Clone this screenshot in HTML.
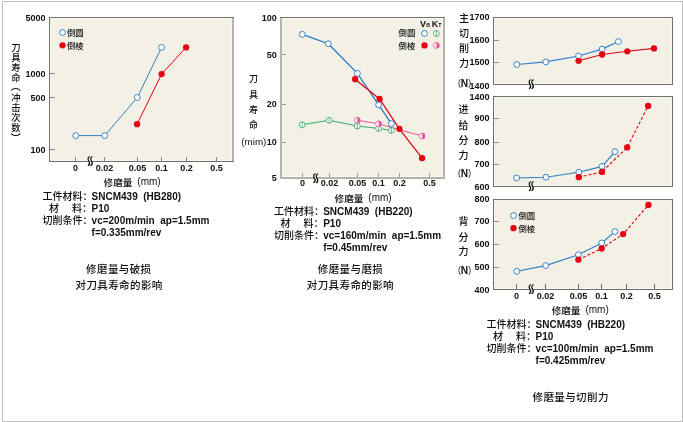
<!DOCTYPE html><html><head><meta charset="utf-8"><style>html,body{margin:0;padding:0;background:#fff;}svg{display:block;will-change:transform;}</style></head><body>
<svg width="683" height="422" viewBox="0 0 683 422">
<rect x="0" y="0" width="683" height="422" fill="#fff"/>
<rect x="2.5" y="1.5" width="680" height="420" fill="none" stroke="#bdbdbd" stroke-width="1"/>
<g fill="#111">
<rect x="49.5" y="17.5" width="183.0" height="144.0" fill="#f3f0e6"/>
<rect x="50.5" y="18.5" width="181.0" height="142.0" fill="none" stroke="#f9f7ee" stroke-width="1"/>
<rect x="232.0" y="17.0" width="2" height="145.0" fill="#b3b2ad"/>
<rect x="49.0" y="17.0" width="185.0" height="1" fill="#707070"/>
<rect x="49.0" y="161.0" width="185.0" height="1" fill="#707070"/>
<rect x="49.0" y="17.0" width="1" height="145.0" fill="#707070"/>
<line x1="50.0" y1="73.5" x2="55.0" y2="73.5" stroke="#858580" stroke-width="1"/>
<line x1="50.0" y1="97.5" x2="55.0" y2="97.5" stroke="#858580" stroke-width="1"/>
<line x1="50.0" y1="149.5" x2="55.0" y2="149.5" stroke="#858580" stroke-width="1"/>
<line x1="75.5" y1="161.0" x2="75.5" y2="157.0" stroke="#858580" stroke-width="1"/>
<line x1="104.5" y1="161.0" x2="104.5" y2="157.0" stroke="#858580" stroke-width="1"/>
<line x1="137.5" y1="161.0" x2="137.5" y2="157.0" stroke="#858580" stroke-width="1"/>
<line x1="161.5" y1="161.0" x2="161.5" y2="157.0" stroke="#858580" stroke-width="1"/>
<line x1="186.5" y1="161.0" x2="186.5" y2="157.0" stroke="#858580" stroke-width="1"/>
<line x1="216.5" y1="161.0" x2="216.5" y2="157.0" stroke="#858580" stroke-width="1"/>
<text x="45.5" y="20.6" font-size="9" font-weight="bold" text-anchor="end" font-family="'Liberation Sans', 'Noto Sans CJK SC', sans-serif" >5000</text>
<text x="45.5" y="77.1" font-size="9" font-weight="bold" text-anchor="end" font-family="'Liberation Sans', 'Noto Sans CJK SC', sans-serif" >1000</text>
<text x="45.5" y="101.1" font-size="9" font-weight="bold" text-anchor="end" font-family="'Liberation Sans', 'Noto Sans CJK SC', sans-serif" >500</text>
<text x="45.5" y="152.5" font-size="9" font-weight="bold" text-anchor="end" font-family="'Liberation Sans', 'Noto Sans CJK SC', sans-serif" >100</text>
<text x="75.5" y="170.9" font-size="9" font-weight="bold" text-anchor="middle" font-family="'Liberation Sans', 'Noto Sans CJK SC', sans-serif" >0</text>
<text x="104.5" y="170.9" font-size="9" font-weight="bold" text-anchor="middle" font-family="'Liberation Sans', 'Noto Sans CJK SC', sans-serif" >0.02</text>
<text x="137.5" y="170.9" font-size="9" font-weight="bold" text-anchor="middle" font-family="'Liberation Sans', 'Noto Sans CJK SC', sans-serif" >0.05</text>
<text x="161.5" y="170.9" font-size="9" font-weight="bold" text-anchor="middle" font-family="'Liberation Sans', 'Noto Sans CJK SC', sans-serif" >0.1</text>
<text x="186.5" y="170.9" font-size="9" font-weight="bold" text-anchor="middle" font-family="'Liberation Sans', 'Noto Sans CJK SC', sans-serif" >0.2</text>
<text x="216.5" y="170.9" font-size="9" font-weight="bold" text-anchor="middle" font-family="'Liberation Sans', 'Noto Sans CJK SC', sans-serif" >0.5</text>
<g transform="translate(90.4,161.0)"><path d="M-0.9,-4.3 C-2.6,-3.5 -2.7,-1.6 -1.6,0 C-0.6,1.5 -0.5,3.2 -2.1,4.4 L0.5,4.5 C2.1,3.3 2.0,1.6 1.0,0.1 C-0.1,-1.5 0,-3.4 1.7,-4.2 Z" fill="#fff"/><path d="M-0.9,-4.3 C-2.6,-3.5 -2.7,-1.6 -1.6,0 C-0.6,1.5 -0.5,3.2 -2.1,4.4" fill="none" stroke="#111" stroke-width="1.25" stroke-linecap="round"/><path d="M1.7,-4.2 C0,-3.4 -0.1,-1.5 1.0,0.1 C2.0,1.6 2.1,3.3 0.5,4.5" fill="none" stroke="#111" stroke-width="1.25" stroke-linecap="round"/></g>
<polyline points="75.7,135.6 104.7,135.6 137.3,97.5 161.6,47.4" fill="none" stroke="#2f80c8" stroke-width="1.0"/>
<polyline points="137.1,124.2 161.6,74.1 186.1,47.4" fill="none" stroke="#e60012" stroke-width="1.0"/>
<circle cx="75.7" cy="135.6" r="2.95" fill="#fff" stroke="#2677c6" stroke-width="0.9"/>
<circle cx="104.7" cy="135.6" r="2.95" fill="#fff" stroke="#2677c6" stroke-width="0.9"/>
<circle cx="137.3" cy="97.5" r="2.95" fill="#fff" stroke="#2677c6" stroke-width="0.9"/>
<circle cx="161.6" cy="47.4" r="2.95" fill="#fff" stroke="#2677c6" stroke-width="0.9"/>
<circle cx="137.1" cy="124.2" r="3.15" fill="#e60012"/>
<circle cx="161.6" cy="74.1" r="3.15" fill="#e60012"/>
<circle cx="186.1" cy="47.4" r="3.15" fill="#e60012"/>
<circle cx="62.5" cy="32.5" r="2.95" fill="#fff" stroke="#2677c6" stroke-width="0.9"/>
<circle cx="62.5" cy="45.3" r="3.15" fill="#e60012"/>
<text x="67.0" y="36.3" font-size="8.4" font-weight="500" text-anchor="start" font-family="'Liberation Sans', 'Noto Sans CJK SC', sans-serif" >倒圆</text>
<text x="67.0" y="48.8" font-size="8.4" font-weight="500" text-anchor="start" font-family="'Liberation Sans', 'Noto Sans CJK SC', sans-serif" >倒棱</text>
<text x="16.0" y="50.95" font-size="9.3" font-weight="500" text-anchor="middle" font-family="'Liberation Sans', 'Noto Sans CJK SC', sans-serif" >刀</text>
<text x="16.0" y="61.05" font-size="9.3" font-weight="500" text-anchor="middle" font-family="'Liberation Sans', 'Noto Sans CJK SC', sans-serif" >具</text>
<text x="16.0" y="70.85" font-size="9.3" font-weight="500" text-anchor="middle" font-family="'Liberation Sans', 'Noto Sans CJK SC', sans-serif" >寿</text>
<text x="16.0" y="81.15" font-size="9.3" font-weight="500" text-anchor="middle" font-family="'Liberation Sans', 'Noto Sans CJK SC', sans-serif" >命</text>
<text x="16.0" y="100.75" font-size="9.3" font-weight="500" text-anchor="middle" font-family="'Liberation Sans', 'Noto Sans CJK SC', sans-serif" >冲</text>
<text x="16.0" y="110.85" font-size="9.3" font-weight="500" text-anchor="middle" font-family="'Liberation Sans', 'Noto Sans CJK SC', sans-serif" >击</text>
<text x="16.0" y="120.95" font-size="9.3" font-weight="500" text-anchor="middle" font-family="'Liberation Sans', 'Noto Sans CJK SC', sans-serif" >次</text>
<text x="16.0" y="131.05" font-size="9.3" font-weight="500" text-anchor="middle" font-family="'Liberation Sans', 'Noto Sans CJK SC', sans-serif" >数</text>
<text x="15.8" y="90.0" font-size="10" font-weight="500" text-anchor="middle" font-family="'Liberation Sans', 'Noto Sans CJK SC', sans-serif" >︵</text>
<text x="15.8" y="141.8" font-size="10" font-weight="500" text-anchor="middle" font-family="'Liberation Sans', 'Noto Sans CJK SC', sans-serif" >︶</text>
<text x="103.60000000000001" y="185.7" font-size="9.6" font-weight="500" text-anchor="start" font-family="'Liberation Sans', 'Noto Sans CJK SC', sans-serif" >修磨量</text>
<text x="137.3" y="185.4" font-size="10" font-weight="normal" text-anchor="start" font-family="'Liberation Sans', 'Noto Sans CJK SC', sans-serif" >(mm)</text>
<text x="42.4" y="200.0" font-size="10" font-weight="500" text-anchor="start" font-family="'Liberation Sans', 'Noto Sans CJK SC', sans-serif" >工件材料：</text>
<text x="48.9" y="212.0" font-size="10" font-weight="500" text-anchor="start" font-family="'Liberation Sans', 'Noto Sans CJK SC', sans-serif" >材</text>
<text x="71.9" y="212.0" font-size="10" font-weight="500" text-anchor="start" font-family="'Liberation Sans', 'Noto Sans CJK SC', sans-serif" >料：</text>
<text x="42.4" y="223.79999999999998" font-size="10" font-weight="500" text-anchor="start" font-family="'Liberation Sans', 'Noto Sans CJK SC', sans-serif" >切削条件：</text>
<text x="91.6" y="200.0" font-size="10" font-weight="bold" text-anchor="start" font-family="'Liberation Sans', 'Noto Sans CJK SC', sans-serif" >SNCM439<tspan dx="5.5">(HB280)</tspan></text>
<text x="91.6" y="212.0" font-size="10" font-weight="bold" text-anchor="start" font-family="'Liberation Sans', 'Noto Sans CJK SC', sans-serif" >P10</text>
<text x="91.6" y="223.79999999999998" font-size="10" font-weight="bold" text-anchor="start" font-family="'Liberation Sans', 'Noto Sans CJK SC', sans-serif" xml:space="preserve">vc=200m/min  ap=1.5mm</text>
<text x="91.6" y="236.0" font-size="10" font-weight="bold" text-anchor="start" font-family="'Liberation Sans', 'Noto Sans CJK SC', sans-serif" >f=0.335mm/rev</text>
<text x="86.1" y="273.3" font-size="10.5" font-weight="500" text-anchor="start" font-family="'Liberation Sans', 'Noto Sans CJK SC', sans-serif" letter-spacing="0.4">修磨量与破损</text>
<text x="75.5" y="289.0" font-size="10.5" font-weight="500" text-anchor="start" font-family="'Liberation Sans', 'Noto Sans CJK SC', sans-serif" letter-spacing="0.4">对刀具寿命的影响</text>
<rect x="281.5" y="17.5" width="162.0" height="160.0" fill="#f3f0e6"/>
<rect x="282.5" y="18.5" width="160.0" height="158.0" fill="none" stroke="#f9f7ee" stroke-width="1"/>
<rect x="280.0" y="17.0" width="2" height="162.0" fill="#b3b2ad"/>
<rect x="443.0" y="17.0" width="2" height="162.0" fill="#b3b2ad"/>
<rect x="280.0" y="177.0" width="165.0" height="2" fill="#b3b2ad"/>
<rect x="280.0" y="17.0" width="165.0" height="1" fill="#707070"/>
<line x1="282.0" y1="54.5" x2="286.0" y2="54.5" stroke="#a09f9a" stroke-width="1"/>
<line x1="282.0" y1="104.5" x2="286.0" y2="104.5" stroke="#a09f9a" stroke-width="1"/>
<line x1="282.0" y1="142.5" x2="286.0" y2="142.5" stroke="#a09f9a" stroke-width="1"/>
<line x1="302.5" y1="177.0" x2="302.5" y2="173.0" stroke="#a09f9a" stroke-width="1"/>
<line x1="329.5" y1="177.0" x2="329.5" y2="173.0" stroke="#a09f9a" stroke-width="1"/>
<line x1="357.5" y1="177.0" x2="357.5" y2="173.0" stroke="#a09f9a" stroke-width="1"/>
<line x1="378.5" y1="177.0" x2="378.5" y2="173.0" stroke="#a09f9a" stroke-width="1"/>
<line x1="399.5" y1="177.0" x2="399.5" y2="173.0" stroke="#a09f9a" stroke-width="1"/>
<line x1="429.5" y1="177.0" x2="429.5" y2="173.0" stroke="#a09f9a" stroke-width="1"/>
<text x="276.8" y="20.6" font-size="9" font-weight="bold" text-anchor="end" font-family="'Liberation Sans', 'Noto Sans CJK SC', sans-serif" >100</text>
<text x="276.8" y="57.6" font-size="9" font-weight="bold" text-anchor="end" font-family="'Liberation Sans', 'Noto Sans CJK SC', sans-serif" >50</text>
<text x="276.8" y="107.3" font-size="9" font-weight="bold" text-anchor="end" font-family="'Liberation Sans', 'Noto Sans CJK SC', sans-serif" >20</text>
<text x="276.8" y="145.0" font-size="9" font-weight="bold" text-anchor="end" font-family="'Liberation Sans', 'Noto Sans CJK SC', sans-serif" >10</text>
<text x="276.8" y="180.8" font-size="9" font-weight="bold" text-anchor="end" font-family="'Liberation Sans', 'Noto Sans CJK SC', sans-serif" >5</text>
<text x="302.5" y="186.4" font-size="9" font-weight="bold" text-anchor="middle" font-family="'Liberation Sans', 'Noto Sans CJK SC', sans-serif" >0</text>
<text x="329.5" y="186.4" font-size="9" font-weight="bold" text-anchor="middle" font-family="'Liberation Sans', 'Noto Sans CJK SC', sans-serif" >0.02</text>
<text x="357.5" y="186.4" font-size="9" font-weight="bold" text-anchor="middle" font-family="'Liberation Sans', 'Noto Sans CJK SC', sans-serif" >0.05</text>
<text x="378.5" y="186.4" font-size="9" font-weight="bold" text-anchor="middle" font-family="'Liberation Sans', 'Noto Sans CJK SC', sans-serif" >0.1</text>
<text x="399.5" y="186.4" font-size="9" font-weight="bold" text-anchor="middle" font-family="'Liberation Sans', 'Noto Sans CJK SC', sans-serif" >0.2</text>
<text x="429.5" y="186.4" font-size="9" font-weight="bold" text-anchor="middle" font-family="'Liberation Sans', 'Noto Sans CJK SC', sans-serif" >0.5</text>
<g transform="translate(316,178.2)"><path d="M-0.9,-4.3 C-2.6,-3.5 -2.7,-1.6 -1.6,0 C-0.6,1.5 -0.5,3.2 -2.1,4.4 L0.5,4.5 C2.1,3.3 2.0,1.6 1.0,0.1 C-0.1,-1.5 0,-3.4 1.7,-4.2 Z" fill="#fff"/><path d="M-0.9,-4.3 C-2.6,-3.5 -2.7,-1.6 -1.6,0 C-0.6,1.5 -0.5,3.2 -2.1,4.4" fill="none" stroke="#111" stroke-width="1.25" stroke-linecap="round"/><path d="M1.7,-4.2 C0,-3.4 -0.1,-1.5 1.0,0.1 C2.0,1.6 2.1,3.3 0.5,4.5" fill="none" stroke="#111" stroke-width="1.25" stroke-linecap="round"/></g>
<text x="253.5" y="82.3" font-size="9" font-weight="500" text-anchor="middle" font-family="'Liberation Sans', 'Noto Sans CJK SC', sans-serif" >刀</text>
<text x="253.5" y="97.8" font-size="9" font-weight="500" text-anchor="middle" font-family="'Liberation Sans', 'Noto Sans CJK SC', sans-serif" >具</text>
<text x="253.5" y="113.0" font-size="9" font-weight="500" text-anchor="middle" font-family="'Liberation Sans', 'Noto Sans CJK SC', sans-serif" >寿</text>
<text x="253.5" y="128.2" font-size="9" font-weight="500" text-anchor="middle" font-family="'Liberation Sans', 'Noto Sans CJK SC', sans-serif" >命</text>
<text x="266.4" y="145.3" font-size="9.8" font-weight="normal" text-anchor="end" font-family="'Liberation Sans', 'Noto Sans CJK SC', sans-serif" >(mim)</text>
<polyline points="302.1,124.8 329.2,120.3 357.3,126.0 378.6,128.4 391.4,130.4" fill="none" stroke="#3aaa6a" stroke-width="1.05"/>
<polyline points="357.3,120.3 378.6,123.8 422.1,136.0" fill="none" stroke="#e8559b" stroke-width="1.0"/>
<polyline points="302.3,34.4 328.3,43.7 357.4,73.4 378.6,104.8 391.4,123.6" fill="none" stroke="#2677c6" stroke-width="1.25"/>
<polyline points="355.1,79.2 379.6,98.9 399.4,128.8 422.1,158.2" fill="none" stroke="#e60012" stroke-width="1.25"/>
<circle cx="302.1" cy="124.8" r="2.95" fill="#fff" stroke="#3aaa6a" stroke-width="0.85"/><line x1="302.1" y1="121.85" x2="302.1" y2="127.75" stroke="#3aaa6a" stroke-width="0.8"/>
<circle cx="329.2" cy="120.3" r="2.95" fill="#fff" stroke="#3aaa6a" stroke-width="0.85"/><line x1="329.2" y1="117.35" x2="329.2" y2="123.25" stroke="#3aaa6a" stroke-width="0.8"/>
<circle cx="357.3" cy="126.0" r="2.95" fill="#fff" stroke="#3aaa6a" stroke-width="0.85"/><line x1="357.3" y1="123.05" x2="357.3" y2="128.95" stroke="#3aaa6a" stroke-width="0.8"/>
<circle cx="378.6" cy="128.4" r="2.95" fill="#fff" stroke="#3aaa6a" stroke-width="0.85"/><line x1="378.6" y1="125.45" x2="378.6" y2="131.35" stroke="#3aaa6a" stroke-width="0.8"/>
<circle cx="391.4" cy="130.4" r="2.95" fill="#fff" stroke="#3aaa6a" stroke-width="0.85"/><line x1="391.4" y1="127.45" x2="391.4" y2="133.35" stroke="#3aaa6a" stroke-width="0.8"/>
<circle cx="357.3" cy="120.3" r="2.95" fill="#fff" stroke="#e8559b" stroke-width="0.8"/><path d="M357.3,117.35 A2.95,2.95 0 0 1 357.3,123.25 Z" fill="#e8559b"/>
<circle cx="378.6" cy="123.8" r="2.95" fill="#fff" stroke="#e8559b" stroke-width="0.8"/><path d="M378.6,120.85 A2.95,2.95 0 0 1 378.6,126.75 Z" fill="#e8559b"/>
<circle cx="422.1" cy="136.0" r="2.95" fill="#fff" stroke="#e8559b" stroke-width="0.8"/><path d="M422.1,133.05 A2.95,2.95 0 0 1 422.1,138.95 Z" fill="#e8559b"/>
<circle cx="302.3" cy="34.4" r="2.95" fill="#fff" stroke="#2677c6" stroke-width="0.9"/>
<circle cx="328.3" cy="43.7" r="2.95" fill="#fff" stroke="#2677c6" stroke-width="0.9"/>
<circle cx="357.4" cy="73.4" r="2.95" fill="#fff" stroke="#2677c6" stroke-width="0.9"/>
<circle cx="378.6" cy="104.8" r="2.95" fill="#fff" stroke="#2677c6" stroke-width="0.9"/>
<circle cx="391.4" cy="123.6" r="2.95" fill="#fff" stroke="#2677c6" stroke-width="0.9"/>
<circle cx="355.1" cy="79.2" r="3.15" fill="#e60012"/>
<circle cx="379.6" cy="98.9" r="3.15" fill="#e60012"/>
<circle cx="399.4" cy="128.8" r="3.15" fill="#e60012"/>
<circle cx="422.1" cy="158.2" r="3.15" fill="#e60012"/>
<text x="420.0" y="27" font-size="9" font-weight="bold" text-anchor="start" font-family="'Liberation Sans', 'Noto Sans CJK SC', sans-serif" >V<tspan font-size="5.3" dx="0.2">B</tspan></text>
<text x="431.7" y="27" font-size="9" font-weight="bold" text-anchor="start" font-family="'Liberation Sans', 'Noto Sans CJK SC', sans-serif" >K<tspan font-size="5.3">T</tspan></text>
<text x="398.6" y="36.2" font-size="8.4" font-weight="500" text-anchor="start" font-family="'Liberation Sans', 'Noto Sans CJK SC', sans-serif" >倒圆</text>
<text x="398.6" y="48.9" font-size="8.4" font-weight="500" text-anchor="start" font-family="'Liberation Sans', 'Noto Sans CJK SC', sans-serif" >倒棱</text>
<circle cx="424.5" cy="33.5" r="2.95" fill="#fff" stroke="#2677c6" stroke-width="0.9"/>
<circle cx="436.4" cy="33.5" r="2.95" fill="#fff" stroke="#3aaa6a" stroke-width="0.85"/><line x1="436.4" y1="30.55" x2="436.4" y2="36.45" stroke="#3aaa6a" stroke-width="0.8"/>
<circle cx="424.5" cy="45.4" r="3.15" fill="#e60012"/>
<circle cx="436.4" cy="45.4" r="2.95" fill="#fff" stroke="#e8559b" stroke-width="0.8"/><path d="M436.4,42.449999999999996 A2.95,2.95 0 0 1 436.4,48.35 Z" fill="#e8559b"/>
<text x="334.59999999999997" y="201.7" font-size="9.6" font-weight="500" text-anchor="start" font-family="'Liberation Sans', 'Noto Sans CJK SC', sans-serif" >修磨量</text>
<text x="368.3" y="201.4" font-size="10" font-weight="normal" text-anchor="start" font-family="'Liberation Sans', 'Noto Sans CJK SC', sans-serif" >(mm)</text>
<text x="273.9" y="215.0" font-size="10" font-weight="500" text-anchor="start" font-family="'Liberation Sans', 'Noto Sans CJK SC', sans-serif" >工件材料：</text>
<text x="280.4" y="226.7" font-size="10" font-weight="500" text-anchor="start" font-family="'Liberation Sans', 'Noto Sans CJK SC', sans-serif" >材</text>
<text x="303.4" y="226.7" font-size="10" font-weight="500" text-anchor="start" font-family="'Liberation Sans', 'Noto Sans CJK SC', sans-serif" >料：</text>
<text x="273.9" y="239.0" font-size="10" font-weight="500" text-anchor="start" font-family="'Liberation Sans', 'Noto Sans CJK SC', sans-serif" >切削条件：</text>
<text x="323.2" y="215.0" font-size="10" font-weight="bold" text-anchor="start" font-family="'Liberation Sans', 'Noto Sans CJK SC', sans-serif" >SNCM439<tspan dx="5.5">(HB220)</tspan></text>
<text x="323.2" y="226.7" font-size="10" font-weight="bold" text-anchor="start" font-family="'Liberation Sans', 'Noto Sans CJK SC', sans-serif" >P10</text>
<text x="323.2" y="239.0" font-size="10" font-weight="bold" text-anchor="start" font-family="'Liberation Sans', 'Noto Sans CJK SC', sans-serif" xml:space="preserve">vc=160m/min  ap=1.5mm</text>
<text x="323.2" y="251.0" font-size="10" font-weight="bold" text-anchor="start" font-family="'Liberation Sans', 'Noto Sans CJK SC', sans-serif" >f=0.45mm/rev</text>
<text x="317.8" y="273.4" font-size="10.5" font-weight="500" text-anchor="start" font-family="'Liberation Sans', 'Noto Sans CJK SC', sans-serif" letter-spacing="0.4">修磨量与磨损</text>
<text x="306.8" y="289.2" font-size="10.5" font-weight="500" text-anchor="start" font-family="'Liberation Sans', 'Noto Sans CJK SC', sans-serif" letter-spacing="0.4">对刀具寿命的影响</text>
<rect x="493.5" y="17.5" width="179.0" height="67.0" fill="#f3f0e6"/>
<rect x="494.5" y="18.5" width="177.0" height="65.0" fill="none" stroke="#f9f7ee" stroke-width="1"/>
<rect x="493.0" y="17.0" width="180.0" height="1" fill="#707070"/>
<rect x="493.0" y="84.0" width="180.0" height="1" fill="#707070"/>
<rect x="493.0" y="17.0" width="1" height="68.0" fill="#707070"/>
<rect x="672.0" y="17.0" width="1" height="68.0" fill="#707070"/>
<line x1="494.0" y1="40.5" x2="499.0" y2="40.5" stroke="#8f8e89" stroke-width="1"/>
<line x1="494.0" y1="62.5" x2="499.0" y2="62.5" stroke="#8f8e89" stroke-width="1"/>
<text x="489.5" y="20.4" font-size="9" font-weight="bold" text-anchor="end" font-family="'Liberation Sans', 'Noto Sans CJK SC', sans-serif" >1700</text>
<text x="489.5" y="43.1" font-size="9" font-weight="bold" text-anchor="end" font-family="'Liberation Sans', 'Noto Sans CJK SC', sans-serif" >1600</text>
<text x="489.5" y="65.1" font-size="9" font-weight="bold" text-anchor="end" font-family="'Liberation Sans', 'Noto Sans CJK SC', sans-serif" >1500</text>
<text x="489.5" y="88.6" font-size="9" font-weight="bold" text-anchor="end" font-family="'Liberation Sans', 'Noto Sans CJK SC', sans-serif" >1400</text>
<text x="463.9" y="21.8" font-size="10" font-weight="500" text-anchor="middle" font-family="'Liberation Sans', 'Noto Sans CJK SC', sans-serif" >主</text>
<text x="463.9" y="37.4" font-size="10" font-weight="500" text-anchor="middle" font-family="'Liberation Sans', 'Noto Sans CJK SC', sans-serif" >切</text>
<text x="463.9" y="52.300000000000004" font-size="10" font-weight="500" text-anchor="middle" font-family="'Liberation Sans', 'Noto Sans CJK SC', sans-serif" >削</text>
<text x="463.9" y="66.6" font-size="10" font-weight="500" text-anchor="middle" font-family="'Liberation Sans', 'Noto Sans CJK SC', sans-serif" >力</text>
<text x="471" y="86.3" font-size="8.6" font-weight="normal" text-anchor="end" font-family="'Liberation Sans', 'Noto Sans CJK SC', sans-serif" >(<tspan font-weight="bold" font-size="10.2" dy="1.1">N</tspan><tspan dy="-1.1">)</tspan></text>
<g transform="translate(531.5,84.1)"><path d="M-0.9,-4.3 C-2.6,-3.5 -2.7,-1.6 -1.6,0 C-0.6,1.5 -0.5,3.2 -2.1,4.4 L0.5,4.5 C2.1,3.3 2.0,1.6 1.0,0.1 C-0.1,-1.5 0,-3.4 1.7,-4.2 Z" fill="#fff"/><path d="M-0.9,-4.3 C-2.6,-3.5 -2.7,-1.6 -1.6,0 C-0.6,1.5 -0.5,3.2 -2.1,4.4" fill="none" stroke="#111" stroke-width="1.25" stroke-linecap="round"/><path d="M1.7,-4.2 C0,-3.4 -0.1,-1.5 1.0,0.1 C2.0,1.6 2.1,3.3 0.5,4.5" fill="none" stroke="#111" stroke-width="1.25" stroke-linecap="round"/></g>
<polyline points="516.8,64.5 545.8,61.9 578.6,56.0 602.1,49.1 618.4,41.6" fill="none" stroke="#2f80c8" stroke-width="1.15"/>
<polyline points="578.6,60.8 602.1,54.5 627.3,51.3 654.0,48.4" fill="none" stroke="#e60012" stroke-width="1.1"/>
<circle cx="516.8" cy="64.5" r="2.95" fill="#fff" stroke="#2677c6" stroke-width="0.9"/>
<circle cx="545.8" cy="61.9" r="2.95" fill="#fff" stroke="#2677c6" stroke-width="0.9"/>
<circle cx="578.6" cy="56.0" r="2.95" fill="#fff" stroke="#2677c6" stroke-width="0.9"/>
<circle cx="602.1" cy="49.1" r="2.95" fill="#fff" stroke="#2677c6" stroke-width="0.9"/>
<circle cx="618.4" cy="41.6" r="2.95" fill="#fff" stroke="#2677c6" stroke-width="0.9"/>
<circle cx="578.6" cy="60.8" r="3.15" fill="#e60012"/>
<circle cx="602.1" cy="54.5" r="3.15" fill="#e60012"/>
<circle cx="627.3" cy="51.3" r="3.15" fill="#e60012"/>
<circle cx="654.0" cy="48.4" r="3.15" fill="#e60012"/>
<rect x="493.5" y="96.5" width="179.0" height="90.0" fill="#f3f0e6"/>
<rect x="494.5" y="97.5" width="177.0" height="88.0" fill="none" stroke="#f9f7ee" stroke-width="1"/>
<rect x="493.0" y="96.0" width="180.0" height="1" fill="#707070"/>
<rect x="493.0" y="186.0" width="180.0" height="1" fill="#707070"/>
<rect x="493.0" y="96.0" width="1" height="91.0" fill="#707070"/>
<rect x="672.0" y="96.0" width="1" height="91.0" fill="#707070"/>
<line x1="494.0" y1="118.5" x2="499.0" y2="118.5" stroke="#8f8e89" stroke-width="1"/>
<line x1="494.0" y1="142.5" x2="499.0" y2="142.5" stroke="#8f8e89" stroke-width="1"/>
<line x1="494.0" y1="164.5" x2="499.0" y2="164.5" stroke="#8f8e89" stroke-width="1"/>
<text x="489.5" y="99.8" font-size="9" font-weight="bold" text-anchor="end" font-family="'Liberation Sans', 'Noto Sans CJK SC', sans-serif" >1400</text>
<text x="489.5" y="121.2" font-size="9" font-weight="bold" text-anchor="end" font-family="'Liberation Sans', 'Noto Sans CJK SC', sans-serif" >900</text>
<text x="489.5" y="145.1" font-size="9" font-weight="bold" text-anchor="end" font-family="'Liberation Sans', 'Noto Sans CJK SC', sans-serif" >800</text>
<text x="489.5" y="167.0" font-size="9" font-weight="bold" text-anchor="end" font-family="'Liberation Sans', 'Noto Sans CJK SC', sans-serif" >700</text>
<text x="489.5" y="189.8" font-size="9" font-weight="bold" text-anchor="end" font-family="'Liberation Sans', 'Noto Sans CJK SC', sans-serif" >600</text>
<text x="463.6" y="113.19999999999999" font-size="10" font-weight="500" text-anchor="middle" font-family="'Liberation Sans', 'Noto Sans CJK SC', sans-serif" >进</text>
<text x="463.6" y="128.9" font-size="10" font-weight="500" text-anchor="middle" font-family="'Liberation Sans', 'Noto Sans CJK SC', sans-serif" >给</text>
<text x="463.6" y="143.9" font-size="10" font-weight="500" text-anchor="middle" font-family="'Liberation Sans', 'Noto Sans CJK SC', sans-serif" >分</text>
<text x="463.6" y="158.6" font-size="10" font-weight="500" text-anchor="middle" font-family="'Liberation Sans', 'Noto Sans CJK SC', sans-serif" >力</text>
<text x="471" y="176.3" font-size="8.6" font-weight="normal" text-anchor="end" font-family="'Liberation Sans', 'Noto Sans CJK SC', sans-serif" >(<tspan font-weight="bold" font-size="10.2" dy="1.1">N</tspan><tspan dy="-1.1">)</tspan></text>
<g transform="translate(531.5,186.1)"><path d="M-0.9,-4.3 C-2.6,-3.5 -2.7,-1.6 -1.6,0 C-0.6,1.5 -0.5,3.2 -2.1,4.4 L0.5,4.5 C2.1,3.3 2.0,1.6 1.0,0.1 C-0.1,-1.5 0,-3.4 1.7,-4.2 Z" fill="#fff"/><path d="M-0.9,-4.3 C-2.6,-3.5 -2.7,-1.6 -1.6,0 C-0.6,1.5 -0.5,3.2 -2.1,4.4" fill="none" stroke="#111" stroke-width="1.25" stroke-linecap="round"/><path d="M1.7,-4.2 C0,-3.4 -0.1,-1.5 1.0,0.1 C2.0,1.6 2.1,3.3 0.5,4.5" fill="none" stroke="#111" stroke-width="1.25" stroke-linecap="round"/></g>
<polyline points="516.6,178.0 546.0,177.2 578.8,172.2 602.0,166.4 615.0,151.7" fill="none" stroke="#2f80c8" stroke-width="1.15"/>
<polyline points="578.8,177.2 602.0,171.9 627.2,147.4 648.1,105.9" fill="none" stroke="#e60012" stroke-width="1.1" stroke-dasharray="3,2"/>
<circle cx="516.6" cy="178.0" r="2.95" fill="#fff" stroke="#2677c6" stroke-width="0.9"/>
<circle cx="546.0" cy="177.2" r="2.95" fill="#fff" stroke="#2677c6" stroke-width="0.9"/>
<circle cx="578.8" cy="172.2" r="2.95" fill="#fff" stroke="#2677c6" stroke-width="0.9"/>
<circle cx="602.0" cy="166.4" r="2.95" fill="#fff" stroke="#2677c6" stroke-width="0.9"/>
<circle cx="615.0" cy="151.7" r="2.95" fill="#fff" stroke="#2677c6" stroke-width="0.9"/>
<circle cx="578.8" cy="177.2" r="3.15" fill="#e60012"/>
<circle cx="602.0" cy="171.9" r="3.15" fill="#e60012"/>
<circle cx="627.2" cy="147.4" r="3.15" fill="#e60012"/>
<circle cx="648.1" cy="105.9" r="3.15" fill="#e60012"/>
<rect x="493.5" y="199.5" width="179.0" height="90.0" fill="#f3f0e6"/>
<rect x="494.5" y="200.5" width="177.0" height="88.0" fill="none" stroke="#f9f7ee" stroke-width="1"/>
<rect x="493.0" y="199.0" width="180.0" height="1" fill="#707070"/>
<rect x="493.0" y="289.0" width="180.0" height="1" fill="#707070"/>
<rect x="493.0" y="199.0" width="1" height="91.0" fill="#707070"/>
<rect x="672.0" y="199.0" width="1" height="91.0" fill="#707070"/>
<line x1="494.0" y1="221.5" x2="499.0" y2="221.5" stroke="#8f8e89" stroke-width="1"/>
<line x1="494.0" y1="244.5" x2="499.0" y2="244.5" stroke="#8f8e89" stroke-width="1"/>
<line x1="494.0" y1="267.5" x2="499.0" y2="267.5" stroke="#8f8e89" stroke-width="1"/>
<line x1="516.5" y1="289.0" x2="516.5" y2="284.0" stroke="#707070" stroke-width="1"/>
<line x1="545.5" y1="289.0" x2="545.5" y2="284.0" stroke="#707070" stroke-width="1"/>
<line x1="578.5" y1="289.0" x2="578.5" y2="284.0" stroke="#707070" stroke-width="1"/>
<line x1="601.5" y1="289.0" x2="601.5" y2="284.0" stroke="#707070" stroke-width="1"/>
<line x1="626.5" y1="289.0" x2="626.5" y2="284.0" stroke="#707070" stroke-width="1"/>
<line x1="654.5" y1="289.0" x2="654.5" y2="284.0" stroke="#707070" stroke-width="1"/>
<text x="489.5" y="202.3" font-size="9" font-weight="bold" text-anchor="end" font-family="'Liberation Sans', 'Noto Sans CJK SC', sans-serif" >800</text>
<text x="489.5" y="224.3" font-size="9" font-weight="bold" text-anchor="end" font-family="'Liberation Sans', 'Noto Sans CJK SC', sans-serif" >700</text>
<text x="489.5" y="247.1" font-size="9" font-weight="bold" text-anchor="end" font-family="'Liberation Sans', 'Noto Sans CJK SC', sans-serif" >600</text>
<text x="489.5" y="269.8" font-size="9" font-weight="bold" text-anchor="end" font-family="'Liberation Sans', 'Noto Sans CJK SC', sans-serif" >500</text>
<text x="489.5" y="293.3" font-size="9" font-weight="bold" text-anchor="end" font-family="'Liberation Sans', 'Noto Sans CJK SC', sans-serif" >400</text>
<text x="516.5" y="299.0" font-size="9" font-weight="bold" text-anchor="middle" font-family="'Liberation Sans', 'Noto Sans CJK SC', sans-serif" >0</text>
<text x="545.5" y="299.0" font-size="9" font-weight="bold" text-anchor="middle" font-family="'Liberation Sans', 'Noto Sans CJK SC', sans-serif" >0.02</text>
<text x="578.5" y="299.0" font-size="9" font-weight="bold" text-anchor="middle" font-family="'Liberation Sans', 'Noto Sans CJK SC', sans-serif" >0.05</text>
<text x="601.5" y="299.0" font-size="9" font-weight="bold" text-anchor="middle" font-family="'Liberation Sans', 'Noto Sans CJK SC', sans-serif" >0.1</text>
<text x="626.5" y="299.0" font-size="9" font-weight="bold" text-anchor="middle" font-family="'Liberation Sans', 'Noto Sans CJK SC', sans-serif" >0.2</text>
<text x="654.5" y="299.0" font-size="9" font-weight="bold" text-anchor="middle" font-family="'Liberation Sans', 'Noto Sans CJK SC', sans-serif" >0.5</text>
<text x="463.6" y="225.1" font-size="10" font-weight="500" text-anchor="middle" font-family="'Liberation Sans', 'Noto Sans CJK SC', sans-serif" >背</text>
<text x="463.6" y="240.5" font-size="10" font-weight="500" text-anchor="middle" font-family="'Liberation Sans', 'Noto Sans CJK SC', sans-serif" >分</text>
<text x="463.6" y="255.1" font-size="10" font-weight="500" text-anchor="middle" font-family="'Liberation Sans', 'Noto Sans CJK SC', sans-serif" >力</text>
<text x="471" y="272.6" font-size="8.6" font-weight="normal" text-anchor="end" font-family="'Liberation Sans', 'Noto Sans CJK SC', sans-serif" >(<tspan font-weight="bold" font-size="10.2" dy="1.1">N</tspan><tspan dy="-1.1">)</tspan></text>
<g transform="translate(531.5,289.0)"><path d="M-0.9,-4.3 C-2.6,-3.5 -2.7,-1.6 -1.6,0 C-0.6,1.5 -0.5,3.2 -2.1,4.4 L0.5,4.5 C2.1,3.3 2.0,1.6 1.0,0.1 C-0.1,-1.5 0,-3.4 1.7,-4.2 Z" fill="#fff"/><path d="M-0.9,-4.3 C-2.6,-3.5 -2.7,-1.6 -1.6,0 C-0.6,1.5 -0.5,3.2 -2.1,4.4" fill="none" stroke="#111" stroke-width="1.25" stroke-linecap="round"/><path d="M1.7,-4.2 C0,-3.4 -0.1,-1.5 1.0,0.1 C2.0,1.6 2.1,3.3 0.5,4.5" fill="none" stroke="#111" stroke-width="1.25" stroke-linecap="round"/></g>
<polyline points="516.8,271.3 545.7,265.6 578.4,254.7 601.7,243.0 614.9,231.6" fill="none" stroke="#2f80c8" stroke-width="1.15"/>
<polyline points="578.4,259.7 601.7,248.5 623.1,234.1 648.4,205.0" fill="none" stroke="#e60012" stroke-width="1.1" stroke-dasharray="3,2"/>
<circle cx="516.8" cy="271.3" r="2.95" fill="#fff" stroke="#2677c6" stroke-width="0.9"/>
<circle cx="545.7" cy="265.6" r="2.95" fill="#fff" stroke="#2677c6" stroke-width="0.9"/>
<circle cx="578.4" cy="254.7" r="2.95" fill="#fff" stroke="#2677c6" stroke-width="0.9"/>
<circle cx="601.7" cy="243.0" r="2.95" fill="#fff" stroke="#2677c6" stroke-width="0.9"/>
<circle cx="614.9" cy="231.6" r="2.95" fill="#fff" stroke="#2677c6" stroke-width="0.9"/>
<circle cx="578.4" cy="259.7" r="3.15" fill="#e60012"/>
<circle cx="601.7" cy="248.5" r="3.15" fill="#e60012"/>
<circle cx="623.1" cy="234.1" r="3.15" fill="#e60012"/>
<circle cx="648.4" cy="205.0" r="3.15" fill="#e60012"/>
<circle cx="513.5" cy="215.6" r="2.95" fill="#fff" stroke="#2677c6" stroke-width="0.9"/>
<circle cx="513.5" cy="228.2" r="3.15" fill="#e60012"/>
<text x="518.4" y="218.79999999999998" font-size="8.4" font-weight="500" text-anchor="start" font-family="'Liberation Sans', 'Noto Sans CJK SC', sans-serif" >倒圆</text>
<text x="518.4" y="232.2" font-size="8.4" font-weight="500" text-anchor="start" font-family="'Liberation Sans', 'Noto Sans CJK SC', sans-serif" >倒棱</text>
<text x="551.6999999999999" y="313.7" font-size="9.6" font-weight="500" text-anchor="start" font-family="'Liberation Sans', 'Noto Sans CJK SC', sans-serif" >修磨量</text>
<text x="585.4" y="313.4" font-size="10" font-weight="normal" text-anchor="start" font-family="'Liberation Sans', 'Noto Sans CJK SC', sans-serif" >(mm)</text>
<text x="486.5" y="327.8" font-size="10" font-weight="500" text-anchor="start" font-family="'Liberation Sans', 'Noto Sans CJK SC', sans-serif" >工件材料：</text>
<text x="493.0" y="339.6" font-size="10" font-weight="500" text-anchor="start" font-family="'Liberation Sans', 'Noto Sans CJK SC', sans-serif" >材</text>
<text x="516.0" y="339.6" font-size="10" font-weight="500" text-anchor="start" font-family="'Liberation Sans', 'Noto Sans CJK SC', sans-serif" >料：</text>
<text x="486.5" y="351.6" font-size="10" font-weight="500" text-anchor="start" font-family="'Liberation Sans', 'Noto Sans CJK SC', sans-serif" >切削条件：</text>
<text x="535.6" y="327.8" font-size="10" font-weight="bold" text-anchor="start" font-family="'Liberation Sans', 'Noto Sans CJK SC', sans-serif" >SNCM439<tspan dx="5.5">(HB220)</tspan></text>
<text x="535.6" y="339.6" font-size="10" font-weight="bold" text-anchor="start" font-family="'Liberation Sans', 'Noto Sans CJK SC', sans-serif" >P10</text>
<text x="535.6" y="351.6" font-size="10" font-weight="bold" text-anchor="start" font-family="'Liberation Sans', 'Noto Sans CJK SC', sans-serif" xml:space="preserve">vc=100m/min  ap=1.5mm</text>
<text x="535.6" y="364.0" font-size="10" font-weight="bold" text-anchor="start" font-family="'Liberation Sans', 'Noto Sans CJK SC', sans-serif" >f=0.425mm/rev</text>
<text x="532.5" y="401.1" font-size="10.5" font-weight="500" text-anchor="start" font-family="'Liberation Sans', 'Noto Sans CJK SC', sans-serif" letter-spacing="0.4">修磨量与切削力</text>
</g></svg></body></html>
